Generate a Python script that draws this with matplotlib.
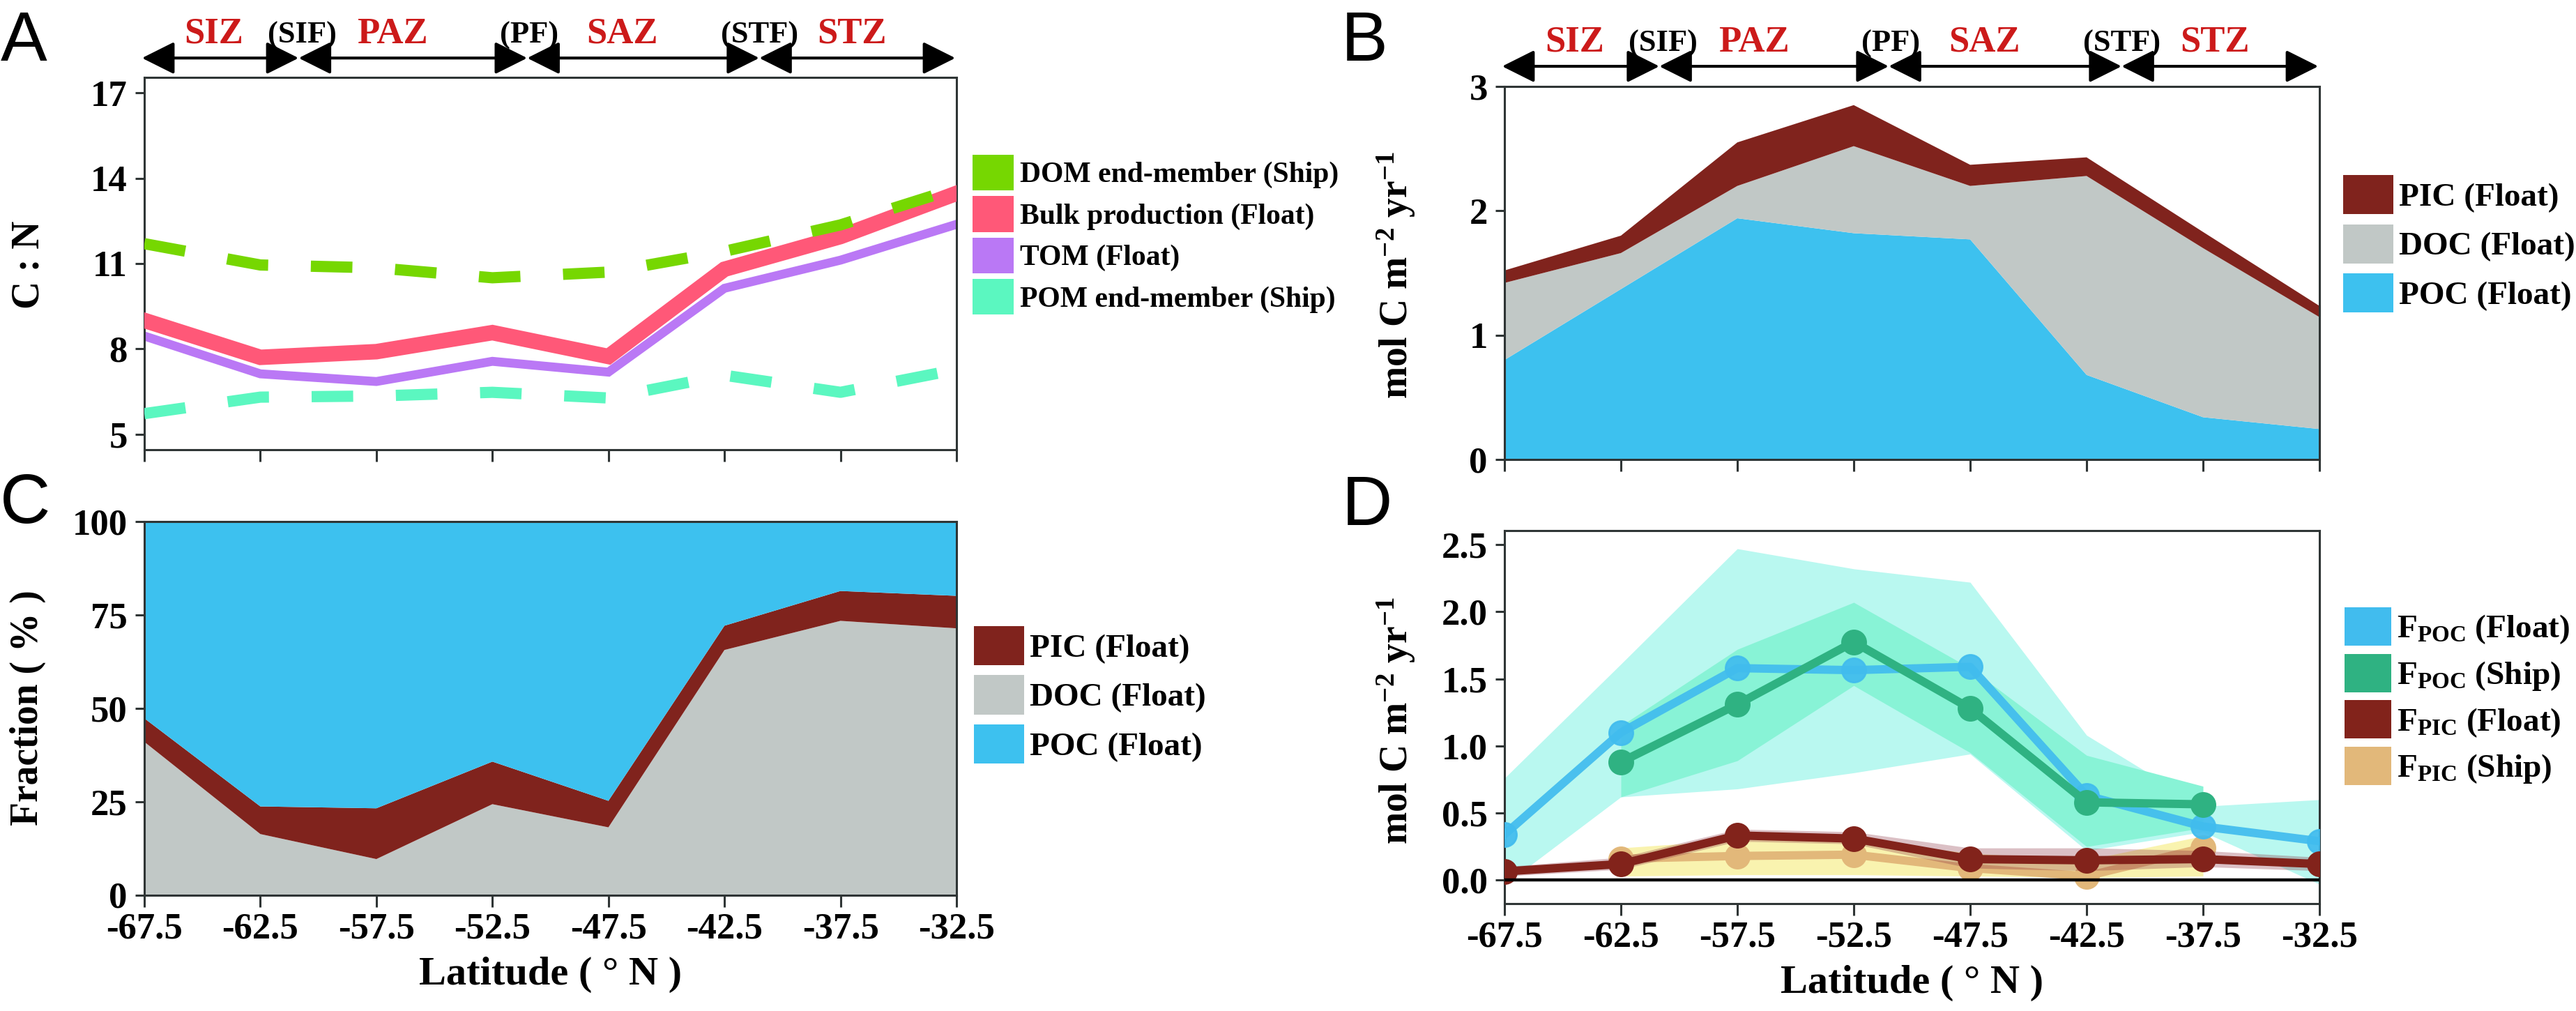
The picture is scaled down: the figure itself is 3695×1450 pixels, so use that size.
import matplotlib
matplotlib.use("Agg")
import matplotlib.pyplot as plt
from matplotlib.patches import Patch
from matplotlib.ticker import FormatStrFormatter

# ---------------- data ----------------
lat = [-67.5, -62.5, -57.5, -52.5, -47.5, -42.5, -37.5, -32.5]
lat_ship = [-62.5, -57.5, -52.5, -47.5, -42.5, -37.5]
lat_ticklabels = ['-67.5', '-62.5', '-57.5', '-52.5', '-47.5', '-42.5', '-37.5', '-32.5']

# zones / fronts (latitude)
zone_edges = [-67.6, -60.85, -51.0, -41.0, -32.55]
zone_names = ['SIZ', 'PAZ', 'SAZ', 'STZ']
zone_label_x = [-64.5, -56.8, -46.9, -37.0]
front_names = ['(SIF)', '(PF)', '(STF)']
front_label_x = [-60.7, -50.9, -41.0]

# Panel A : C:N
cn_dom_ship = [11.7, 10.95, 10.85, 10.5, 10.7, 11.43, 12.36, 13.65]
cn_bulk_float = [9.0, 7.7, 7.9, 8.57, 7.73, 10.8, 11.95, 13.47]
cn_tom_float = [8.45, 7.12, 6.85, 7.56, 7.18, 10.13, 11.12, 12.38]
cn_pom_ship = [5.72, 6.3, 6.34, 6.47, 6.27, 7.07, 6.47, 7.27]
cn_yticks = [5, 8, 11, 14, 17]

# Panel B : mol C m-2 yr-1
poc_float = [0.80, 1.37, 1.94, 1.82, 1.77, 0.68, 0.34, 0.245]
doc_float = [0.62, 0.29, 0.26, 0.70, 0.43, 1.60, 1.36, 0.90]
pic_float = [0.10, 0.14, 0.35, 0.33, 0.17, 0.15, 0.13, 0.09]

# Panel C : fraction (%)
doc_frac = [41.0, 16.3, 9.6, 24.3, 18.1, 65.6, 73.4, 71.4]
pic_frac = [6.3, 7.4, 13.6, 11.4, 7.1, 6.5, 8.0, 8.7]

# Panel D : fluxes
fpoc_float = [0.34, 1.10, 1.58, 1.565, 1.59, 0.63, 0.40, 0.29]
fpoc_float_hi = [0.76, 1.61, 2.47, 2.32, 2.22, 1.08, 0.55, 0.60]
fpoc_float_lo = [-0.035, 0.62, 0.68, 0.80, 0.94, 0.22, 0.36, -0.03]
fpoc_ship = [0.88, 1.31, 1.775, 1.28, 0.58, 0.565]
fpoc_ship_hi = [1.15, 1.72, 2.07, 1.58, 0.93, 0.70]
fpoc_ship_lo = [0.62, 0.89, 1.45, 0.95, 0.25, 0.39]
fpic_float = [0.065, 0.12, 0.333, 0.31, 0.157, 0.148, 0.157, 0.12]
fpic_float_hi = [0.10, 0.17, 0.38, 0.36, 0.24, 0.24, 0.22, 0.17]
fpic_float_lo = [0.03, 0.08, 0.29, 0.27, 0.09, 0.07, 0.10, 0.07]
fpic_ship = [0.16, 0.18, 0.19, 0.09, 0.03, 0.24]
fpic_ship_hi = [0.24, 0.30, 0.31, 0.20, 0.15, 0.33]
fpic_ship_lo = [0.03, 0.04, 0.04, 0.03, 0.02, 0.03]

# ---------------- style ----------------
plt.rcParams['font.family'] = ['Liberation Serif', 'DejaVu Serif']
plt.rcParams['font.weight'] = 'bold'
plt.rcParams['mathtext.fontset'] = 'custom'
plt.rcParams['mathtext.rm'] = 'Liberation Serif'
plt.rcParams['mathtext.it'] = 'Liberation Serif:italic'
plt.rcParams['mathtext.bf'] = 'Liberation Serif:bold'

W, H = 3695, 1450
DPI = 200
fig = plt.figure(figsize=(W / DPI, H / DPI), dpi=DPI)


def rect(l, t, r, b):
    return [l / W, 1 - b / H, (r - l) / W, (b - t) / H]


axA = fig.add_axes(rect(207, 111, 1372, 645))
axB = fig.add_axes(rect(2158, 124, 3327, 659))
axC = fig.add_axes(rect(207, 748, 1372, 1283.5))
axD = fig.add_axes(rect(2158, 761, 3327, 1296))

SPINE = '#2f3535'
TICK_FS = 19
for ax in (axA, axB, axC, axD):
    ax.set_xlim(-67.5, -32.5)
    ax.set_xticks(lat)
    for s in ax.spines.values():
        s.set_color(SPINE)
        s.set_linewidth(1.1)
    ax.tick_params(axis='x', direction='out', length=6, width=1.1, color=SPINE,
                   labelsize=TICK_FS, pad=3)
    ax.tick_params(axis='y', direction='out', length=4.7, width=1.1, color=SPINE,
                   labelsize=TICK_FS, pad=4)

for ax in (axA, axB):
    ax.set_xticklabels([])
for ax in (axC, axD):
    ax.set_xticklabels(lat_ticklabels)

# ---------------- Panel A ----------------
c_dom, c_bulk, c_tom, c_pom = '#76D701', '#FF5878', '#BA78F5', '#5BF7C0'
axA.plot(lat, cn_tom_float, color=c_tom, lw=4.6, solid_joinstyle='miter', zorder=2)
axA.plot(lat, cn_bulk_float, color=c_bulk, lw=8, solid_joinstyle='miter', zorder=3)
axA.plot(lat, cn_pom_ship, color=c_pom, lw=5.8, dashes=(3.7, 3.8),
         dash_capstyle='butt', zorder=4)
axA.plot(lat, cn_dom_ship, color=c_dom, lw=5.8, dashes=(3.7, 3.8),
         dash_capstyle='butt', zorder=5)
axA.set_ylim(4.45, 17.55)
axA.set_yticks(cn_yticks)

axA.legend([Patch(facecolor=c, edgecolor='none') for c in (c_dom, c_bulk, c_tom, c_pom)],
           ['DOM end-member (Ship)', 'Bulk production (Float)', 'TOM (Float)',
            'POM end-member (Ship)'],
           loc='upper left', bbox_to_anchor=(1.0197, 0.7921), bbox_transform=axA.transAxes,
           frameon=False, borderpad=0, borderaxespad=0, handlelength=1.42,
           handleheight=1.51, labelspacing=0.2, handletextpad=0.22,
           prop=dict(family='Liberation Serif', weight='bold', size=15))

# ---------------- Panel B ----------------
c_pic, c_doc, c_poc = '#80231D', '#C1C8C6', '#3DC1EF'
axB.stackplot(lat, poc_float, doc_float, pic_float, colors=[c_poc, c_doc, c_pic],
              linewidth=0)
axB.set_ylim(0, 3)
axB.set_yticks([0, 1, 2, 3])
leg_kw = dict(loc='upper left', frameon=False, borderpad=0, borderaxespad=0,
              handlelength=1.53, handleheight=1.46, labelspacing=0.30,
              handletextpad=0.17, prop=dict(family='Liberation Serif', weight='bold', size=17))
axB.legend([Patch(facecolor=c, edgecolor='none') for c in (c_pic, c_doc, c_poc)],
           ['PIC (Float)', 'DOC (Float)', 'POC (Float)'],
           bbox_to_anchor=(1.029, 0.7626), bbox_transform=axB.transAxes, **leg_kw)

# ---------------- Panel C ----------------
poc_frac = [100 - d - p for d, p in zip(doc_frac, pic_frac)]
axC.stackplot(lat, doc_frac, pic_frac, poc_frac, colors=[c_doc, c_pic, c_poc], linewidth=0)
axC.set_ylim(0, 100)
axC.set_yticks([0, 25, 50, 75, 100])
axC.legend([Patch(facecolor=c, edgecolor='none') for c in (c_pic, c_doc, c_poc)],
           ['PIC (Float)', 'DOC (Float)', 'POC (Float)'],
           bbox_to_anchor=(1.0215, 0.720), bbox_transform=axC.transAxes, **leg_kw)

# ---------------- Panel D ----------------
c_fpf, c_fps, c_fif, c_fis = '#41BCEE', '#2FB282', '#82231B', '#E2B87A'
axD.fill_between(lat, fpoc_float_lo, fpoc_float_hi, color='#B9F8F0', lw=0, zorder=1)
axD.fill_between(lat_ship, fpoc_ship_lo, fpoc_ship_hi, color='#88F3D6', lw=0, zorder=2)
axD.fill_between(lat_ship, fpic_ship_lo, fpic_ship_hi, color='#F5E860', alpha=0.5, lw=0,
                 zorder=3)
axD.plot(lat_ship, fpic_ship, color=c_fis, lw=4.3, marker='o', ms=12.3, zorder=4)
axD.fill_between(lat, fpic_float_lo, fpic_float_hi, color='#8A3040', alpha=0.3, lw=0,
                 zorder=5)
axD.plot(lat, fpoc_float, color=c_fpf, lw=4.3, marker='o', ms=12.3, alpha=0.92, zorder=6)
axD.plot(lat_ship, fpoc_ship, color=c_fps, lw=4.3, marker='o', ms=12.3, zorder=7)
axD.plot(lat, fpic_float, color=c_fif, lw=4.3, marker='o', ms=12.3, zorder=8)
axD.axhline(0, color='black', lw=1.6, zorder=9)
axD.set_ylim(-0.175, 2.605)
axD.set_yticks([0, 0.5, 1.0, 1.5, 2.0, 2.5])
axD.yaxis.set_major_formatter(FormatStrFormatter('%.1f'))
axD.legend([Patch(facecolor=c, edgecolor='none') for c in (c_fpf, c_fps, c_fif, c_fis)],
           [r'F$_{\mathbf{POC}}$ (Float)', r'F$_{\mathbf{POC}}$ (Ship)',
            r'F$_{\mathbf{PIC}}$ (Float)', r'F$_{\mathbf{PIC}}$ (Ship)'],
           loc='upper left', bbox_to_anchor=(1.031, 0.794), bbox_transform=axD.transAxes,
           frameon=False, borderpad=0, borderaxespad=0, handlelength=1.42,
           handleheight=1.42, labelspacing=0.24, handletextpad=0.16,
           prop=dict(family='Liberation Serif', weight='bold', size=17))

# ---------------- zone arrows ----------------
for ax, ya, yt in ((axA, 1.052, 1.092), (axB, 1.054, 1.0935)):
    tr = ax.get_xaxis_transform()
    for i in range(len(zone_names)):
        ax.annotate('', xy=(zone_edges[i + 1], ya), xytext=(zone_edges[i], ya),
                    xycoords=tr, textcoords=tr, annotation_clip=False,
                    arrowprops=dict(arrowstyle='<|-|>', mutation_scale=36, lw=1.5,
                                    color='black', shrinkA=0, shrinkB=0))
        ax.text(zone_label_x[i], yt, zone_names[i], transform=tr, ha='center',
                va='baseline', color='#CC1A1A', fontsize=19, fontweight='bold')
    for i in range(len(front_names)):
        ax.text(front_label_x[i], yt, front_names[i], transform=tr, ha='center',
                va='baseline', color='black', fontsize=16, fontweight='bold')

# ---------------- axis labels ----------------
fig.text(42 / W, 1 - 380 / H, 'C : N', rotation=90, ha='center', va='center', fontsize=20)
fig.text(2003 / W, 1 - 394 / H, r'mol C m$^{-2}$ yr$^{-1}$', rotation=90, ha='center',
         va='center', fontsize=20)
fig.text(40 / W, 1 - 1015 / H, 'Fraction ( % )', rotation=90, ha='center', va='center',
         fontsize=20)
fig.text(2003 / W, 1 - 1033 / H, r'mol C m$^{-2}$ yr$^{-1}$', rotation=90, ha='center',
         va='center', fontsize=20)
fig.text(789.5 / W, 1 - 1398 / H, 'Latitude ( ° N )', ha='center', va='center', fontsize=21)
fig.text(2742.5 / W, 1 - 1410 / H, 'Latitude ( ° N )', ha='center', va='center', fontsize=21)

# ---------------- panel letters ----------------
for letter, x, yb in (('A', 1, 87), ('B', 1924, 87), ('C', 0, 750), ('D', 1925, 753)):
    fig.text(x / W, 1 - yb / H, letter, ha='left', va='baseline', fontsize=36,
             fontweight='normal', family=['Liberation Sans', 'DejaVu Sans'])

fig.savefig('out.png', dpi=DPI)
